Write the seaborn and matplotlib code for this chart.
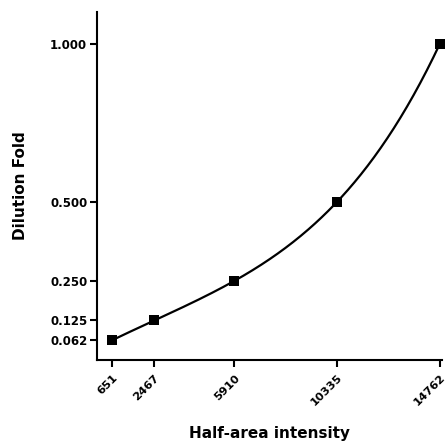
import numpy as np
import pandas as pd
import matplotlib
matplotlib.use("Agg")
import matplotlib.pyplot as plt
import seaborn as sns

# data
intensity = [651, 2467, 5910, 10335, 14762]
dilution = [0.0625, 0.125, 0.25, 0.5, 1.0]
x_ticklabels = ["651", "2467", "5910", "10335", "14762"]
y_ticks = [0.0625, 0.125, 0.25, 0.5, 1.0]
y_ticklabels = ["0.062", "0.125", "0.250", "0.500", "1.000"]

df = pd.DataFrame({"intensity": intensity, "dilution": dilution})

# smooth curve through the standards (polynomial fit)
coef = np.polyfit(intensity, dilution, 4)
xs = np.linspace(min(intensity), max(intensity), 300)
fit = pd.DataFrame({"intensity": xs, "dilution": np.polyval(coef, xs)})

sns.set_style("ticks", {"axes.edgecolor": "black", "xtick.color": "black",
                        "ytick.color": "black", "text.color": "black",
                        "axes.labelcolor": "black"})
plt.rcParams["font.family"] = ["DejaVu Sans"]

fig = plt.figure(figsize=(4.46, 4.42), dpi=100)
ax = fig.add_axes([0.2175, 0.1855, 0.7735, 0.7874])

sns.lineplot(data=fit, x="intensity", y="dilution", color="black", linewidth=1.6, ax=ax)
sns.scatterplot(data=df, x="intensity", y="dilution", marker="s", s=48, color="black",
                edgecolor="black", linewidth=0, zorder=3, clip_on=False, ax=ax)

ax.set_xlim(0, 14850)
ax.set_ylim(0, 1.1)
ax.set_xticks(intensity)
ax.set_xticklabels(x_ticklabels, rotation=45, ha="right", rotation_mode="anchor",
                   fontsize=8.2, fontweight="bold")
ax.set_yticks(y_ticks)
ax.set_yticklabels(y_ticklabels, fontsize=8.5, fontweight="bold")
ax.set_xlabel("Half-area intensity", fontsize=11, fontweight="bold", labelpad=13)
ax.set_ylabel("Dilution Fold", fontsize=11, fontweight="bold", labelpad=16)

sns.despine(ax=ax)
for s in ["left", "bottom"]:
    ax.spines[s].set_linewidth(1.5)
ax.tick_params(width=1.5, length=5, pad=2)
ax.tick_params(axis="x", pad=4)

fig.savefig("out.png", dpi=100)
